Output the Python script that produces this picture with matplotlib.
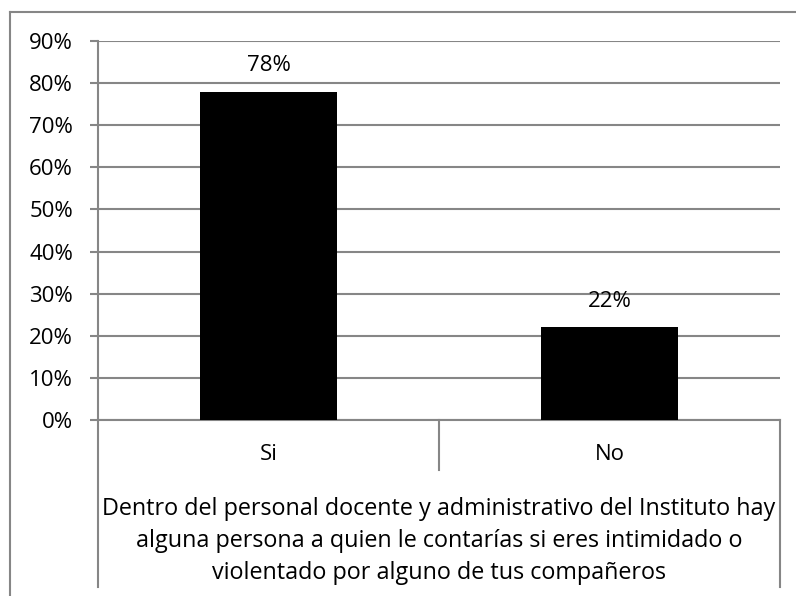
import matplotlib.pyplot as plt
from matplotlib.lines import Line2D
from matplotlib.ticker import PercentFormatter

categories = ['Si', 'No']
values = [0.78, 0.22]
group_label = ('Dentro del personal docente y administrativo del Instituto hay\n'
               'alguna persona a quien le contarías si eres intimidado o\n'
               'violentado por alguno de tus compañeros')

GRAY = '#868686'
plt.rcParams['font.family'] = ['Open Sans', 'DejaVu Sans']

W, H = 796, 596
fig = plt.figure(figsize=(W / 100, H / 100), dpi=100)

# plot area in pixels: x 98..780, y 41..420
ax = fig.add_axes([98 / W, 1 - 420 / H, (780 - 98) / W, (420 - 41) / H])

x = range(len(categories))
ax.bar(x, values, width=0.4, color='black', zorder=3)
for xi, v in zip(x, values):
    ax.annotate(f'{v * 100:.0f}%', (xi, v), xytext=(0, 11), textcoords='offset points',
                ha='center', va='bottom', fontsize=16)

ax.set_xlim(-0.5, len(categories) - 0.5)
ax.set_ylim(0, 0.9)
ax.set_yticks([i / 10 for i in range(10)])
ax.yaxis.set_major_formatter(PercentFormatter(1.0, decimals=0))
ax.tick_params(axis='y', length=6, width=1.5, color=GRAY, labelsize=16, pad=12)
ax.set_xticks([])
ax.grid(axis='y', color=GRAY, linewidth=1.5, zorder=0)

for s in ['top', 'right']:
    ax.spines[s].set_visible(False)
for s in ['left', 'bottom']:
    ax.spines[s].set_color(GRAY)
    ax.spines[s].set_linewidth(1.5)

# category axis: labels and separators below the plot
tr = ax.get_xaxis_transform()
ah = 420 - 41
for xi, c in zip(x, categories):
    ax.text(xi, -35 / ah, c, transform=tr, ha='center', va='center', fontsize=16)
edges = [-0.5 + i for i in range(len(categories) + 1)]
for i, e in enumerate(edges):
    low = -167 / ah if i in (0, len(edges) - 1) else -50 / ah
    ax.plot([e, e], [0, low], transform=tr, color=GRAY, linewidth=1.5, clip_on=False)

ax.text(0.5, -121 / ah, group_label, transform=ax.transAxes, ha='center', va='center',
        fontsize=16.8, linespacing=1.42)

# chart border (left and top edges)
fig.add_artist(Line2D([10 / W, 10 / W], [0, 1 - 12 / H], color=GRAY, linewidth=1.5))
fig.add_artist(Line2D([10 / W, 1], [1 - 12 / H, 1 - 12 / H], color=GRAY, linewidth=1.5))

fig.savefig('out.png', dpi=100)
